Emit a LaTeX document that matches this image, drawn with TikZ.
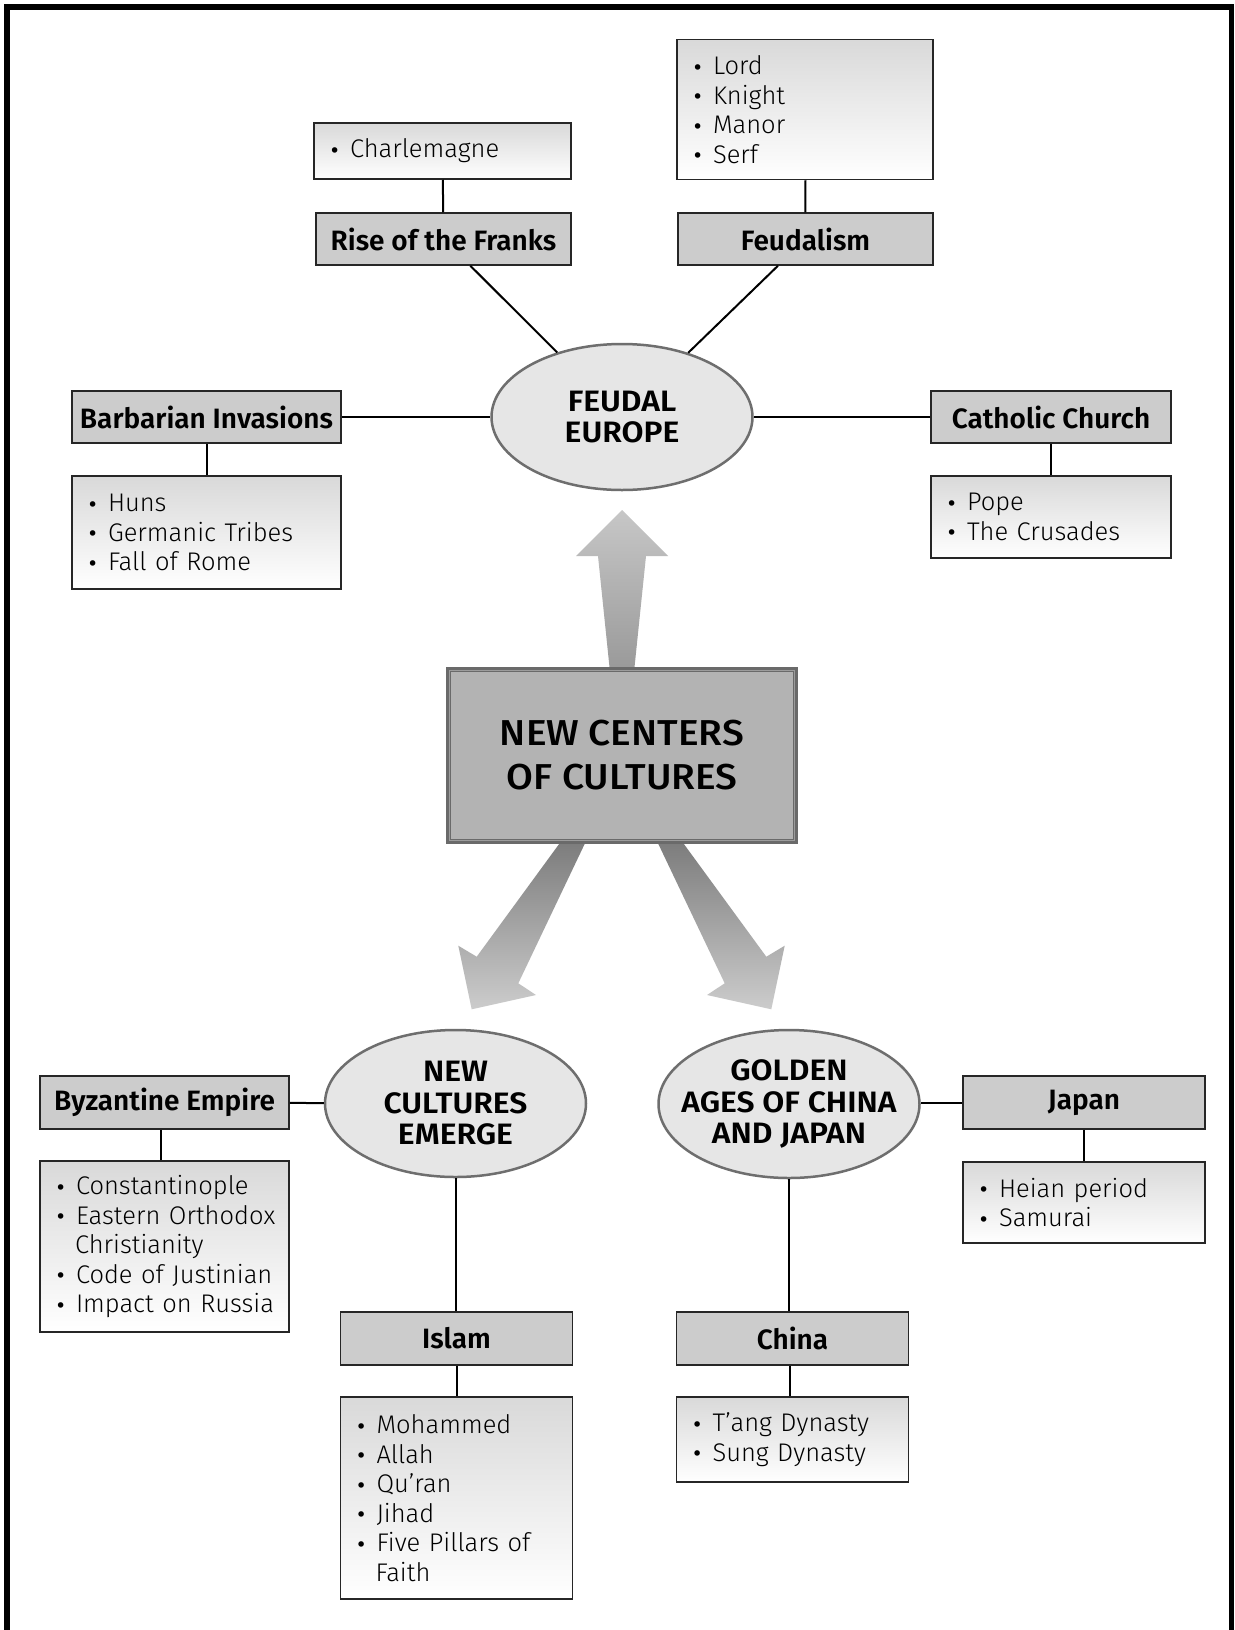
\documentclass[tikz,border=0pt]{standalone}
\usepackage{fontspec}
\setmainfont{Fira Sans}
\newfontfamily\lightf{Fira Sans Light}
\newfontfamily\semif{Fira Sans SemiBold}
\newfontfamily\semiwide{Fira Sans SemiBold}[FakeStretch=1.08]
\newfontfamily\medwide{Fira Sans Medium}[FakeStretch=1.08]
\newfontfamily\bulf{DejaVu Sans}
\usetikzlibrary{shapes.geometric}
\definecolor{headfill}{HTML}{CCCCCC}
\definecolor{listtop}{HTML}{D9D9D9}
\definecolor{ellfill}{HTML}{E6E6E6}
\definecolor{ellline}{HTML}{6E6E6E}
\definecolor{cfill}{HTML}{B3B3B3}
\definecolor{cline}{HTML}{6A6A6A}
\definecolor{cinner}{HTML}{9C9C9C}
\definecolor{boxline}{HTML}{262626}
\newcommand\bit[1]{\mbox{\makebox[21pt][l]{\raisebox{0.5pt}{\bulf\fontsize{19}{19}\selectfont •}}#1}}
\newcommand\bcont[1]{\mbox{\hspace*{20pt}#1}}
\tikzset{
  headbox/.style={draw=boxline, line width=1.5pt, fill=headfill, inner sep=0pt,
    font=\semif\fontsize{28}{31.5}\selectfont, text=black},
  listbox/.style={draw=boxline, line width=1.5pt, top color=listtop, bottom color=white,
    inner xsep=15pt, inner ysep=0pt, align=left,
    font=\lightf\fontsize{25.5}{29.5}\selectfont, text=black},
  ellnode/.style={ellipse, draw=ellline, line width=2.5pt, fill=ellfill, inner sep=0pt},
  elltext/.style={align=center, inner sep=0pt, font=\semiwide\fontsize{29.5}{31.5}\selectfont, text=black},
  link/.style={line width=2pt, black},
  centerbox/.style={draw=cline, line width=5pt, fill=cfill, inner sep=0pt, align=center,
    font=\medwide\fontsize{36}{44}\selectfont, text=black},
}
\begin{document}
\begin{tikzpicture}[x=1pt,y=-1pt]
\useasboundingbox (0,0) rectangle (1234,1630);
\fill[white] (0,0) rectangle (1234,1630);
% frame
\draw[line width=5.5pt, black] (7,1660) -- (7,7) -- (1231.5,7) -- (1231.5,1660);

% block arrows
\shade[top color=black!22, bottom color=black!40]
  (622,510) -- (668,556) -- (646,556) -- (634,672) -- (610,672) -- (598,556) -- (576,556) -- cycle;
\shade[top color=black!52, bottom color=black!20]
  (563.5,838) -- (587.5,838) -- (518.3,983.3) -- (536,995) -- (471.7,1009.3) -- (458.3,945.7) -- (476.7,956.7) -- cycle;
\shade[top color=black!52, bottom color=black!20]
  (679.5,838) -- (655.5,838) -- (724.7,983.3) -- (707,995) -- (771.3,1009.3) -- (784.7,945.7) -- (766.3,956.7) -- cycle;

% central box
\node[centerbox, minimum width=347pt, minimum height=172pt] (ncc) at (622,755.5) {NEW CENTERS\\OF CULTURES};
\draw[cinner, line width=1pt] ([shift={(3.2,3.2)}]ncc.north west) rectangle ([shift={(-3.2,-3.2)}]ncc.south east);

% ----- Feudal Europe -----
\node[ellnode, minimum width=261pt, minimum height=146pt] (fe) at (622,417) {};
\node[elltext] (fet) at (fe.center) {FEUDAL\\EUROPE};

\node[listbox, minimum width=257pt, minimum height=56pt, text width=227pt] (charl) at (442.5,151) {\bit{Charlemagne}};
\node[headbox, minimum width=255pt, minimum height=52pt] (franks) at (443.5,239) {Rise of the Franks};
\node[listbox, minimum width=256pt, minimum height=140pt, text width=226pt] (lord) at (805,109.5)
  {\bit{Lord}\\\bit{Knight}\\\bit{Manor}\\\bit{Serf}};
\node[headbox, minimum width=255pt, minimum height=52pt] (feud) at (805.5,239) {Feudalism};
\node[headbox, minimum width=269pt, minimum height=52pt] (barb) at (206.5,417) {Barbarian Invasions};
\node[listbox, minimum width=269pt, minimum height=113pt, text width=239pt] (huns) at (206.5,532.5)
  {\bit{Huns}\\\bit{Germanic Tribes}\\\bit{Fall of Rome}};
\node[headbox, minimum width=240pt, minimum height=52pt] (cath) at (1051,417) {Catholic Church};
\node[listbox, minimum width=240pt, minimum height=82pt, text width=210pt] (pope) at (1051,517)
  {\bit{Pope}\\\bit{The Crusades}};

\draw[link] (charl) -- (franks);
\draw[link] (lord) -- (feud);
\draw[link] (franks) -- (fe);
\draw[link] (feud) -- (fe);
\draw[link] (barb) -- (fe);
\draw[link] (cath) -- (fe);
\draw[link] (barb) -- (huns);
\draw[link] (cath) -- (pope);

% ----- New Cultures Emerge -----
\node[ellnode, minimum width=261pt, minimum height=147pt] (nce) at (455.5,1103.5) {};
\node[elltext] (ncet) at (nce.center) {NEW\\CULTURES\\EMERGE};
\node[headbox, minimum width=249pt, minimum height=53pt] (byz) at (164.5,1102.5) {Byzantine Empire};
\node[listbox, minimum width=249pt, minimum height=171pt, text width=219pt] (const) at (164.5,1246.5)
  {\bit{Constantinople}\\\bit{Eastern Orthodox}\\\bcont{Christianity}\\\bit{Code of Justinian}\\\bit{Impact on Russia}};
\node[headbox, minimum width=232pt, minimum height=53pt] (islam) at (456.5,1338.5) {Islam};
\node[listbox, minimum width=232pt, minimum height=202pt, text width=202pt] (moh) at (456.5,1498)
  {\bit{Mohammed}\\\bit{Allah}\\\bit{Qu’ran}\\\bit{Jihad}\\\bit{Five Pillars of}\\\bcont{Faith}};

\draw[link] (byz) -- (nce);
\draw[link] ([xshift=-4pt]byz.south) -- ([xshift=-4pt]const.north);
\draw[link] (nce.south) -- (nce.south |- islam.north);
\draw[link] (islam) -- (moh);

% ----- Golden Ages -----
\node[ellnode, minimum width=261pt, minimum height=148pt] (gold) at (789,1104) {};
\node[elltext] (goldt) at (gold.center) {GOLDEN\\AGES OF CHINA\\AND JAPAN};
\node[headbox, minimum width=242pt, minimum height=53pt] (japan) at (1084,1102.5) {Japan};
\node[listbox, minimum width=242pt, minimum height=81pt, text width=212pt] (heian) at (1084,1202.5)
  {\bit{Heian period}\\\bit{Samurai}};
\node[headbox, minimum width=232pt, minimum height=53pt] (china) at (792.5,1338.5) {China};
\node[listbox, minimum width=232pt, minimum height=85pt, text width=202pt] (tang) at (792.5,1439.5)
  {\bit{T’ang Dynasty}\\\bit{Sung Dynasty}};

\draw[link] (japan.west) -- (japan.west -| gold.east);
\draw[link] (japan) -- (heian);
\draw[link] (gold.south) -- (gold.south |- china.north);
\draw[link] ([xshift=-2.5pt]china.south) -- ([xshift=-2.5pt]tang.north);
\end{tikzpicture}
\end{document}
